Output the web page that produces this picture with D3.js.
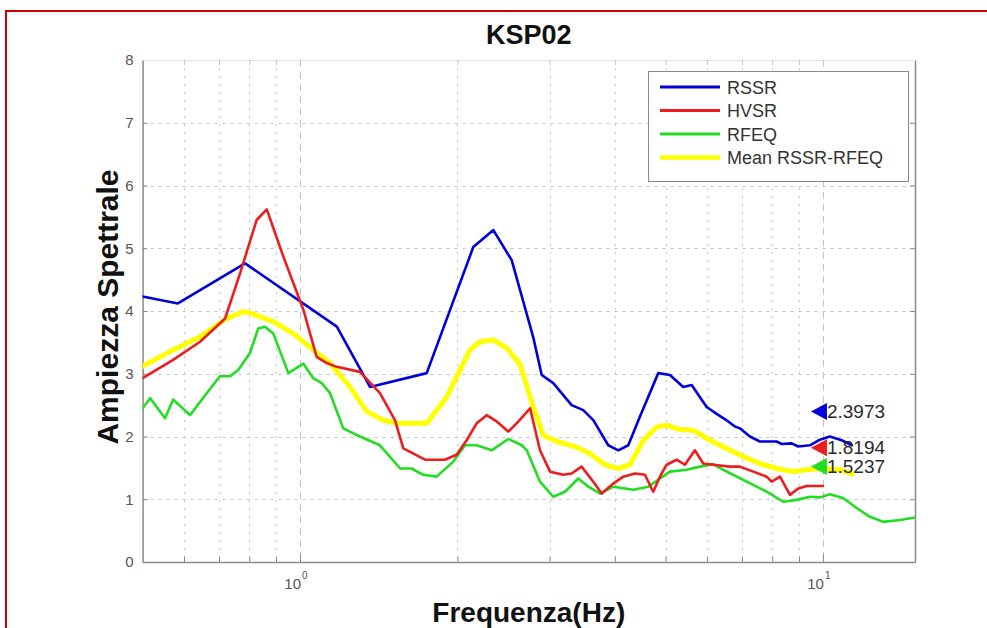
<!DOCTYPE html>
<html>
<head>
<meta charset="utf-8">
<script src="https://cdn.jsdelivr.net/npm/d3@7/dist/d3.min.js"></script>
<style>
  html, body { margin: 0; padding: 0; background: #fff; }
  svg { display: block; font-family: "Liberation Sans", Arial, Helvetica, sans-serif; }
</style>
</head>
<body>
<svg id="chart" width="987" height="628"></svg>
<script>
// ---- data: spectral ratio curves for station KSP02 ----
const rssrFreq = [0.5, 0.584, 0.785, 1.176, 1.361, 1.747, 2.145, 2.343, 2.54, 2.793, 2.899, 3.05, 3.307, 3.481, 3.638, 3.886, 4.061, 4.244, 4.468, 4.843, 5.099, 5.406, 5.61, 5.993, 6.262, 6.59, 6.787, 6.937, 7.25, 7.577, 8.153, 8.337, 8.713, 8.971, 9.444, 9.868, 10.31, 10.86, 11.36];
const rssrAmp  = [4.23, 4.12, 4.76, 3.75, 2.79, 3.01, 5.02, 5.29, 4.81, 3.58, 2.98, 2.85, 2.5, 2.42, 2.26, 1.86, 1.78, 1.86, 2.32, 3.01, 2.98, 2.79, 2.82, 2.47, 2.36, 2.24, 2.16, 2.13, 2.0, 1.92, 1.92, 1.88, 1.89, 1.84, 1.86, 1.95, 2.0, 1.94, 1.86];

const hvsrFreq = [0.5, 0.572, 0.644, 0.719, 0.768, 0.826, 0.864, 0.929, 1.015, 1.076, 1.125, 1.176, 1.302, 1.422, 1.519, 1.576, 1.734, 1.893, 1.993, 2.083, 2.177, 2.275, 2.378, 2.502, 2.596, 2.754, 2.877, 3.007, 3.187, 3.307, 3.456, 3.638, 3.775, 3.972, 4.151, 4.37, 4.567, 4.737, 4.878, 5.024, 5.251, 5.446, 5.691, 5.902, 6.169, 6.639, 6.937, 7.357, 7.806, 7.979, 8.277, 8.649, 8.971, 9.308, 10.0];
const hvsrAmp  = [2.93, 3.22, 3.51, 3.88, 4.6, 5.45, 5.62, 4.87, 4.02, 3.27, 3.17, 3.11, 3.03, 2.69, 2.26, 1.81, 1.63, 1.63, 1.71, 1.94, 2.21, 2.34, 2.24, 2.08, 2.21, 2.45, 1.78, 1.44, 1.39, 1.41, 1.52, 1.28, 1.09, 1.25, 1.36, 1.41, 1.39, 1.12, 1.36, 1.55, 1.63, 1.55, 1.78, 1.57, 1.55, 1.52, 1.52, 1.44, 1.36, 1.28, 1.36, 1.07, 1.17, 1.21, 1.21];

const rfeqFreq = [0.5, 0.517, 0.552, 0.572, 0.616, 0.663, 0.703, 0.735, 0.762, 0.802, 0.832, 0.857, 0.889, 0.95, 1.015, 1.06, 1.1, 1.14, 1.21, 1.302, 1.422, 1.554, 1.635, 1.721, 1.825, 1.964, 2.068, 2.177, 2.326, 2.502, 2.655, 2.714, 2.877, 3.05, 3.212, 3.405, 3.56, 3.748, 3.972, 4.338, 4.635, 4.878, 5.099, 5.488, 5.818, 6.169, 6.447, 6.839, 7.357, 7.806, 8.398, 8.908, 9.444, 9.869, 10.31, 10.93, 11.6, 12.3, 13.04, 14.03, 15.0];
const rfeqAmp  = [2.45, 2.61, 2.29, 2.59, 2.34, 2.69, 2.96, 2.96, 3.06, 3.33, 3.72, 3.75, 3.64, 3.01, 3.16, 2.93, 2.85, 2.7, 2.13, 2.0, 1.86, 1.49, 1.49, 1.39, 1.36, 1.6, 1.86, 1.86, 1.78, 1.96, 1.86, 1.78, 1.28, 1.04, 1.12, 1.33, 1.2, 1.09, 1.2, 1.15, 1.2, 1.33, 1.44, 1.47, 1.52, 1.56, 1.47, 1.36, 1.23, 1.12, 0.96, 0.99, 1.04, 1.03, 1.08, 1.02, 0.86, 0.72, 0.64, 0.67, 0.71];

const meanFreq = [0.5, 0.572, 0.644, 0.724, 0.779, 0.802, 0.889, 0.971, 1.06, 1.141, 1.246, 1.341, 1.443, 1.531, 1.747, 1.908, 2.114, 2.209, 2.343, 2.485, 2.635, 2.793, 2.919, 3.096, 3.357, 3.584, 3.83, 4.061, 4.276, 4.534, 4.809, 5.024, 5.329, 5.649, 6.081, 6.546, 7.04, 7.577, 8.154, 8.773, 9.308, 9.869, 10.78, 11.36];
const meanAmp  = [3.12, 3.38, 3.59, 3.88, 3.99, 3.97, 3.83, 3.64, 3.38, 3.17, 2.79, 2.4, 2.26, 2.21, 2.21, 2.63, 3.38, 3.51, 3.54, 3.41, 3.15, 2.47, 2.02, 1.92, 1.84, 1.73, 1.55, 1.49, 1.55, 1.94, 2.15, 2.18, 2.11, 2.1, 1.94, 1.81, 1.68, 1.57, 1.49, 1.44, 1.47, 1.49, 1.47, 1.40];

// peak markers at 10 Hz
const markerFreq = [10, 10, 10];
const markerAmp  = [2.3973, 1.8194, 1.5237];
const markerText = ["2.3973", "1.8194", "1.5237"];

const seriesNames  = ["RSSR", "HVSR", "RFEQ", "Mean RSSR-RFEQ"];
const seriesColors = ["#0000dd", "#ee1c1c", "#22dd22", "#ffff00"];
const markerColors = ["#0000dd", "#ee1c1c", "#22dd22"];

const yTicks = [0, 1, 2, 3, 4, 5, 6, 7, 8];
const xMinorTicks = [0.6, 0.7, 0.8, 0.9, 1, 2, 3, 4, 5, 6, 7, 8, 9, 10];
const xDecades = [1, 10];
const xDecadeExp = ["0", "1"];

// ---- layout ----
const svg = d3.select("#chart");
const plot = { left: 142.6, right: 915, top: 60, bottom: 562 };

const x = d3.scaleLog().domain([0.5, 15]).range([plot.left, plot.right]);
const y = d3.scaleLinear().domain([0, 8]).range([plot.bottom, plot.top]);

// figure frame
svg.append("path")
  .attr("d", "M6,628 L6,11 L987,11")
  .attr("fill", "none").attr("stroke", "#cc0000").attr("stroke-width", 2);

// clip for curves
svg.append("clipPath").attr("id", "plotClip")
  .append("rect")
  .attr("x", plot.left).attr("y", plot.top)
  .attr("width", plot.right - plot.left).attr("height", plot.bottom - plot.top);

// grid
const grid = svg.append("g").attr("stroke", "#c4c4c4").attr("stroke-width", 1)
  .attr("stroke-dasharray", "3,5").attr("fill", "none");
grid.selectAll("line.h").data(yTicks.slice(1)).join("line")
  .attr("x1", plot.left).attr("x2", plot.right)
  .attr("y1", d => Math.round(y(d)) + 0.5).attr("y2", d => Math.round(y(d)) + 0.5);
grid.selectAll("line.v").data(xMinorTicks).join("line")
  .attr("y1", plot.top).attr("y2", plot.bottom)
  .attr("x1", d => Math.round(x(d)) + 0.5).attr("x2", d => Math.round(x(d)) + 0.5)
  .attr("stroke-dasharray", d => (d === 1 || d === 10) ? "7,5" : "2,6");

// axes (box with inward ticks)
const axisColor = "#8a8a8a";
const yAxisL = d3.axisLeft(y).tickValues(yTicks).tickSizeInner(-5).tickSizeOuter(0).tickPadding(9);
const gy = svg.append("g").attr("transform", `translate(${plot.left},0)`).call(yAxisL);
gy.select(".domain").attr("stroke", axisColor).attr("stroke-width", 1.5);
gy.selectAll(".tick line").attr("stroke", axisColor);
gy.selectAll(".tick text").attr("fill", "#555").attr("font-size", 15)
  .attr("font-family", "Liberation Sans, Arial, sans-serif");

const yAxisR = d3.axisRight(y).tickValues(yTicks).tickSizeInner(-5).tickSizeOuter(0).tickFormat("");
const gyr = svg.append("g").attr("transform", `translate(${plot.right},0)`).call(yAxisR);
gyr.select(".domain").attr("stroke", axisColor).attr("stroke-width", 1.5);
gyr.selectAll(".tick line").attr("stroke", axisColor);

const xAxisB = d3.axisBottom(x).tickValues(xMinorTicks).tickSizeInner(-5).tickSizeOuter(0).tickFormat("");
const gx = svg.append("g").attr("transform", `translate(0,${plot.bottom})`).call(xAxisB);
gx.select(".domain").attr("stroke", axisColor).attr("stroke-width", 1.5);
gx.selectAll(".tick line").attr("stroke", axisColor)
  .attr("y2", d => (d === 1 || d === 10) ? -8 : -5);

const xAxisT = d3.axisTop(x).tickValues(xMinorTicks).tickSizeInner(-5).tickSizeOuter(0).tickFormat("");
const gxt = svg.append("g").attr("transform", `translate(0,${plot.top})`).call(xAxisT);
gxt.select(".domain").attr("stroke", "#e4e4e4").attr("stroke-width", 1);
gxt.selectAll(".tick line").attr("stroke", "#c8c8c8");

// decade labels 10^n
const decLab = svg.append("g").attr("fill", "#555");
xDecades.forEach((d, i) => {
  decLab.append("text").attr("x", x(d) + 1).attr("y", 589)
    .attr("text-anchor", "end").attr("font-size", 15).text("10");
  decLab.append("text").attr("x", x(d) + 2).attr("y", 579)
    .attr("font-size", 10).text(xDecadeExp[i]);
});

// curves
const line = d3.line().x(d => x(d[0])).y(d => y(d[1]));
const curves = svg.append("g").attr("clip-path", "url(#plotClip)").attr("fill", "none")
  .attr("stroke-linejoin", "round").attr("stroke-linecap", "round");
const zip = (f, a) => f.map((v, i) => [v, a[i]]);
const drawn = [
  { data: zip(rssrFreq, rssrAmp), color: seriesColors[0], w: 2.6 },
  { data: zip(meanFreq, meanAmp), color: seriesColors[3], w: 5 },
  { data: zip(rfeqFreq, rfeqAmp), color: seriesColors[2], w: 2.6 },
  { data: zip(hvsrFreq, hvsrAmp), color: seriesColors[1], w: 2.6 }
];
drawn.forEach(s => {
  curves.append("path").datum(s.data).attr("d", line)
    .attr("stroke", s.color).attr("stroke-width", s.w);
});

// peak markers (left-pointing triangles) with value labels
const mk = svg.append("g");
markerAmp.forEach((v, i) => {
  const cx = x(markerFreq[i]), cy = y(v);
  mk.append("path")
    .attr("d", `M${cx - 12},${cy} L${cx + 4},${cy - 8.5} L${cx + 4},${cy + 8.5} Z`)
    .attr("fill", markerColors[i]);
  mk.append("text").attr("x", cx + 4).attr("y", cy + 6.5)
    .attr("font-size", 19).attr("fill", "#2a2a2a").text(markerText[i]);
});

// legend
const lg = svg.append("g");
lg.append("rect").attr("x", 648.5).attr("y", 71.5).attr("width", 260).attr("height", 110)
  .attr("fill", "#fff").attr("stroke", "#8a8a8a").attr("stroke-width", 1);
seriesNames.forEach((name, i) => {
  const ly = 87 + i * 23.5;
  lg.append("line").attr("x1", 660).attr("x2", 720).attr("y1", ly).attr("y2", ly)
    .attr("stroke", seriesColors[i]).attr("stroke-width", i === 3 ? 4.5 : 3);
  lg.append("text").attr("x", 727).attr("y", ly + 6.5).attr("font-size", 18)
    .attr("fill", "#333").text(name);
});

// titles
svg.append("text").attr("x", (plot.left + plot.right) / 2).attr("y", 44)
  .attr("text-anchor", "middle").attr("font-size", 27).attr("font-weight", "bold")
  .attr("fill", "#111").text("KSP02");
svg.append("text").attr("x", (plot.left + plot.right) / 2).attr("y", 622)
  .attr("text-anchor", "middle").attr("font-size", 28).attr("font-weight", "bold")
  .attr("fill", "#111").text("Frequenza(Hz)");
svg.append("text").attr("transform", `translate(118,${(plot.top + plot.bottom) / 2 - 4}) rotate(-90)`)
  .attr("text-anchor", "middle").attr("font-size", 30).attr("font-weight", "bold")
  .attr("fill", "#111").text("Ampiezza Spettrale");
</script>
</body>
</html>
